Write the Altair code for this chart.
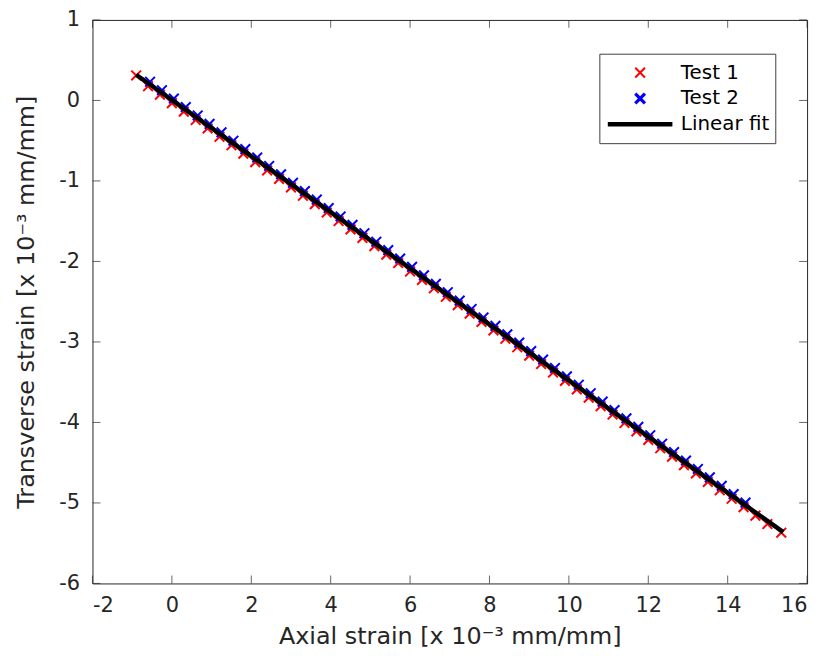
import altair as alt
import pandas as pd

# ---- data ----
series_names = ["Test 1", "Test 2", "Linear fit"]

t1_x = [-0.90, -0.60, -0.30, 0.00, 0.30, 0.60, 0.90, 1.20, 1.50, 1.80, 2.10, 2.40,
        2.70, 3.00, 3.30, 3.60, 3.90, 4.20, 4.50, 4.80, 5.10, 5.40, 5.70, 6.00,
        6.30, 6.60, 6.90, 7.20, 7.50, 7.80, 8.10, 8.40, 8.70, 9.00, 9.30, 9.60,
        9.90, 10.20, 10.50, 10.80, 11.10, 11.40, 11.70, 12.00, 12.30, 12.60,
        12.90, 13.20, 13.50, 13.80, 14.10, 14.40, 14.70, 15.00, 15.35]
t1_y = [0.31, 0.176, 0.071, -0.034, -0.139, -0.243, -0.348, -0.452, -0.557, -0.661,
        -0.766, -0.870, -0.975, -1.080, -1.184, -1.289, -1.393, -1.498, -1.602,
        -1.707, -1.811, -1.916, -2.020, -2.125, -2.230, -2.334, -2.439, -2.543,
        -2.648, -2.752, -2.857, -2.961, -3.066, -3.171, -3.275, -3.380, -3.484,
        -3.589, -3.693, -3.798, -3.902, -4.007, -4.111, -4.216, -4.321, -4.425,
        -4.530, -4.634, -4.739, -4.843, -4.948, -5.052, -5.157, -5.262, -5.37]

t2_x = [-0.55, -0.25, 0.05, 0.35, 0.65, 0.95, 1.25, 1.55, 1.85, 2.15, 2.45, 2.75,
        3.05, 3.35, 3.65, 3.95, 4.25, 4.55, 4.85, 5.15, 5.45, 5.75, 6.05, 6.35,
        6.65, 6.95, 7.25, 7.55, 7.85, 8.15, 8.45, 8.75, 9.05, 9.35, 9.65, 9.95,
        10.25, 10.55, 10.85, 11.15, 11.45, 11.75, 12.05, 12.35, 12.65, 12.95,
        13.25, 13.55, 13.85, 14.15, 14.45]
t2_y = [0.232, 0.127, 0.023, -0.082, -0.187, -0.291, -0.396, -0.500, -0.605, -0.709,
        -0.814, -0.918, -1.023, -1.127, -1.232, -1.337, -1.441, -1.546, -1.650,
        -1.755, -1.859, -1.964, -2.068, -2.173, -2.278, -2.382, -2.487, -2.591,
        -2.696, -2.800, -2.905, -3.009, -3.114, -3.219, -3.323, -3.428, -3.532,
        -3.637, -3.741, -3.846, -3.950, -4.055, -4.159, -4.264, -4.368, -4.473,
        -4.578, -4.682, -4.787, -4.891, -4.996]

fit_x = [-0.9, 15.4]
fit_y = [0.319, -5.362]

x_ticks = [-2, 0, 2, 4, 6, 8, 10, 12, 14, 16]
y_ticks = [-6, -5, -4, -3, -2, -1, 0, 1]

x_title = "Axial strain [x 10\u207b\u00b3 mm/mm]"
y_title = "Transverse strain [x 10\u207b\u00b3 mm/mm]"

df1 = pd.DataFrame({"x": t1_x, "y": t1_y, "series": "Test 1"})
df2 = pd.DataFrame({"x": t2_x, "y": t2_y, "series": "Test 2"})
dff = pd.DataFrame({"x": fit_x, "y": fit_y, "series": "Linear fit"})
dxt = pd.DataFrame({"v": x_ticks})
dyt = pd.DataFrame({"v": y_ticks})

# ---- styling ----
W, H = 719, 567
FONT = "DejaVu Sans"
AX = "#262626"
XPATH = "M-0.15,-0.15L0.15,0.15M-0.15,0.15L0.15,-0.15"

xs = alt.Scale(domain=[-2, 16], nice=False, zero=False)
ys = alt.Scale(domain=[-6, 1], nice=False, zero=False)

color_scale = alt.Scale(domain=series_names, range=["#ff0000", "#0000ff", "#000000"])
shape_scale = alt.Scale(domain=series_names, range=[XPATH, XPATH, "stroke"])
sw_scale = alt.Scale(type="point", domain=series_names, range=[2, 4.5])

leg = alt.Legend(
    title=None, orient="none", legendX=510, legendY=34,
    labelFont=FONT, labelFontSize=20, labelColor="#000000",
    symbolSize=4225, clipHeight=26, rowPadding=0, padding=6,
    labelOffset=6, strokeColor="#404040", fillColor="#ffffff",
    symbolFillColor="transparent",
)

lab = "datum.value + ''"

x_main = alt.Axis(values=x_ticks, ticks=False, domain=False, grid=False,
                  labelFont=FONT, labelFontSize=21, labelColor=AX, labelPadding=11,
                  labelExpr=lab, title=x_title, titleFont=FONT, titleFontSize=24,
                  titleFontWeight="normal", titleColor=AX, titlePadding=9)
y_main = alt.Axis(values=y_ticks, ticks=False, domain=False, grid=False,
                  labelFont=FONT, labelFontSize=21, labelColor=AX, labelPadding=13,
                  labelExpr=lab, title=y_title, titleFont=FONT, titleFontSize=24,
                  titleFontWeight="normal", titleColor=AX, titlePadding=20)

red = alt.Chart(df1).mark_point(filled=False, size=4225, opacity=1, strokeWidth=2).encode(
    x=alt.X("x:Q", scale=xs, axis=x_main),
    y=alt.Y("y:Q", scale=ys, axis=y_main),
    color=alt.Color("series:N", scale=color_scale, legend=leg),
    shape=alt.Shape("series:N", scale=shape_scale, legend=leg),
)
blue = alt.Chart(df2).mark_point(filled=False, size=4225, opacity=1, strokeWidth=2).encode(
    x=alt.X("x:Q", scale=xs),
    y=alt.Y("y:Q", scale=ys),
    color=alt.Color("series:N", scale=color_scale, legend=leg),
    shape=alt.Shape("series:N", scale=shape_scale, legend=leg),
)
fit = alt.Chart(dff).mark_line().encode(
    x=alt.X("x:Q", scale=xs),
    y=alt.Y("y:Q", scale=ys),
    color=alt.Color("series:N", scale=color_scale, legend=leg),
    strokeWidth=alt.StrokeWidth("series:N", scale=sw_scale, legend=leg),
)

# inward tick marks on all four sides, positioned from the tick lists
tick_style = dict(size=8, thickness=1, color=AX)
t_bottom = alt.Chart(dxt).mark_tick(orient="vertical", **tick_style).encode(
    x=alt.X("v:Q", scale=xs), y=alt.YDatum(-6, type="quantitative"), yOffset=alt.value(-4))
t_top = alt.Chart(dxt).mark_tick(orient="vertical", **tick_style).encode(
    x=alt.X("v:Q", scale=xs), y=alt.YDatum(1, type="quantitative"), yOffset=alt.value(4))
t_left = alt.Chart(dyt).mark_tick(orient="horizontal", **tick_style).encode(
    y=alt.Y("v:Q", scale=ys), x=alt.XDatum(-2, type="quantitative"), xOffset=alt.value(4))
t_right = alt.Chart(dyt).mark_tick(orient="horizontal", **tick_style).encode(
    y=alt.Y("v:Q", scale=ys), x=alt.XDatum(16, type="quantitative"), xOffset=alt.value(-4))

chart = alt.layer(red, blue, fit, t_bottom, t_top, t_left, t_right).properties(
    width=W, height=H,
    autosize=alt.AutoSizeParams(type="none"),
    padding={"left": 85, "top": 10, "right": 12, "bottom": 70},
    background="#ffffff",
).configure_view(stroke=AX, strokeWidth=1)

chart.save("out.html", embed_options={"renderer": "svg", "actions": False})
